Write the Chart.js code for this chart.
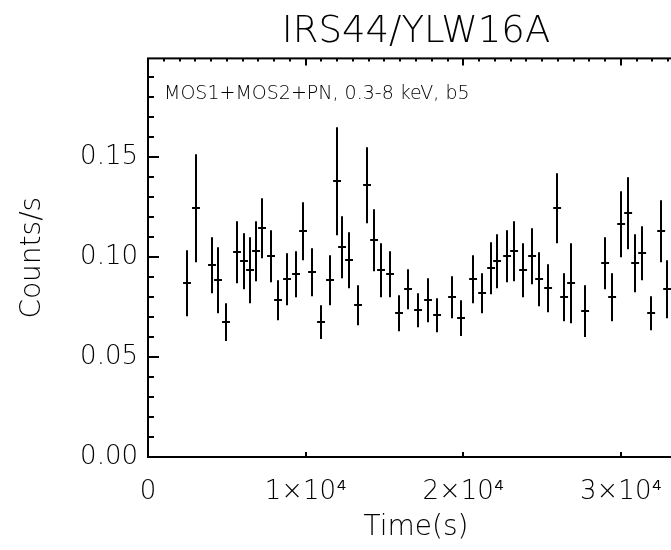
<!DOCTYPE html>
<html>
<head>
<meta charset="utf-8">
<title>IRS44/YLW16A light curve</title>
<script src="https://cdn.jsdelivr.net/npm/chart.js@4.4.1/dist/chart.umd.min.js"></script>
<style>
  html, body { margin: 0; padding: 0; background: #fff; overflow: hidden; }
  #wrap { width: 700px; height: 550px; }
</style>
</head>
<body>
<div id="wrap"><canvas id="myChart" width="700" height="550"></canvas></div>
<script>
// light curve bins (time in s, rate in counts/s, 1 sigma error)
const times = [2475, 3046, 4061, 4442, 4949, 5647, 6091, 6472, 6853, 7234,
  7805, 8249, 8820, 9391, 9835, 10406, 10977, 11548, 11992, 12310,
  12754, 13325, 13896, 14340, 14784, 15355, 15926, 16497, 17132, 17766,
  18338, 19289, 19860, 20622, 21193, 21764, 22145, 22779, 23223, 23794,
  24365, 24810, 25381, 25952, 26396, 26840, 27728, 28997, 29442, 30013,
  30457, 30901, 31345, 31916, 32551, 32931];
const rates = [0.087, 0.1245, 0.096, 0.0885, 0.0675, 0.1025, 0.098, 0.0935, 0.103, 0.1145,
  0.1005, 0.0785, 0.089, 0.0915, 0.113, 0.0925, 0.0675, 0.0885, 0.138, 0.105,
  0.0985, 0.076, 0.136, 0.1085, 0.0935, 0.0915, 0.072, 0.084, 0.0735, 0.0785,
  0.071, 0.080, 0.0695, 0.089, 0.082, 0.0945, 0.098, 0.1005, 0.103, 0.0935,
  0.1005, 0.089, 0.0845, 0.1245, 0.080, 0.087, 0.073, 0.097, 0.080, 0.1165,
  0.122, 0.097, 0.102, 0.072, 0.113, 0.084];
const rateErrs = [0.0165, 0.027, 0.014, 0.0165, 0.0095, 0.0155, 0.014, 0.0165, 0.015, 0.015,
  0.013, 0.010, 0.013, 0.0115, 0.0145, 0.012, 0.0085, 0.0125, 0.027, 0.0155,
  0.014, 0.010, 0.019, 0.0155, 0.0135, 0.0115, 0.009, 0.010, 0.0085, 0.011,
  0.0085, 0.0105, 0.009, 0.012, 0.010, 0.013, 0.0135, 0.013, 0.015, 0.0135,
  0.014, 0.0135, 0.012, 0.0175, 0.012, 0.020, 0.013, 0.013, 0.012, 0.0165,
  0.018, 0.0145, 0.0135, 0.0085, 0.0155, 0.0145];
const binHalf = 250;

const xTicks = [0, 10000, 20000, 30000];
const xTickLabels = ['0', '1×10⁴', '2×10⁴', '3×10⁴'];
const yTicks = [0, 0.05, 0.10, 0.15];
const yTickLabels = ['0.00', '0.05', '0.10', '0.15'];

const titleText = 'IRS44/YLW16A';
const noteText = 'MOS1+MOS2+PN, 0.3-8 keV, b5';

const fontFamily = '"DejaVu Sans", "Liberation Sans", sans-serif';

// error bars drawn through the chart scales
const errorBars = {
  id: 'errorBars',
  afterDatasetsDraw(chart) {
    const {ctx, scales: {x, y}} = chart;
    ctx.save();
    ctx.strokeStyle = '#000';
    ctx.lineWidth = 2;
    ctx.beginPath();
    for (let i = 0; i < times.length; i++) {
      const px = Math.round(x.getPixelForValue(times[i]));
      const py = Math.round(y.getPixelForValue(rates[i]));
      ctx.moveTo(px, y.getPixelForValue(rates[i] + rateErrs[i]));
      ctx.lineTo(px, y.getPixelForValue(rates[i] - rateErrs[i]));
      ctx.moveTo(x.getPixelForValue(times[i] - binHalf), py);
      ctx.lineTo(x.getPixelForValue(times[i] + binHalf), py);
    }
    ctx.stroke();
    ctx.restore();
  }
};

// IDL style box with inward tick marks + the label in the corner
const idlAxes = {
  id: 'idlAxes',
  afterDraw(chart) {
    const {ctx, chartArea: a, scales: {x, y}} = chart;
    ctx.save();
    ctx.strokeStyle = '#000';
    ctx.lineWidth = 2;
    ctx.strokeRect(a.left, a.top, a.right - a.left, a.bottom - a.top);
    ctx.beginPath();
    for (let k = 0; k * 0.01 <= y.max + 1e-9; k++) {
      const py = Math.round(y.getPixelForValue(k * 0.01));
      const len = k % 5 === 0 ? 11 : 6;
      ctx.moveTo(a.left, py); ctx.lineTo(a.left + len, py);
      ctx.moveTo(a.right, py); ctx.lineTo(a.right - len, py);
    }
    for (let k = 0; k * 1000 <= x.max; k++) {
      const px = Math.round(x.getPixelForValue(k * 1000));
      const major = k % 10 === 0;
      ctx.moveTo(px, a.top); ctx.lineTo(px, a.top + (major ? 7 : 3));
      if (major) { ctx.moveTo(px, a.bottom); ctx.lineTo(px, a.bottom - 5); }
    }
    ctx.stroke();

    ctx.fillStyle = '#000';
    ctx.font = '200 19px ' + fontFamily;
    ctx.textAlign = 'left';
    ctx.textBaseline = 'middle';
    ctx.fillText(noteText, a.left + 16, a.top + 36);
    ctx.restore();
  }
};

const myChart = document.getElementById('myChart');

new Chart(myChart, {
  type: 'scatter',
  data: {
    datasets: [{
      label: 'count rate',
      data: times.map((t, i) => ({x: t, y: rates[i]})),
      pointRadius: 0,
      pointHoverRadius: 0,
      showLine: false
    }]
  },
  options: {
    responsive: false,
    animation: false,
    layout: { padding: { top: 0, left: 0, right: 16, bottom: 0 } },
    plugins: {
      legend: { display: false },
      tooltip: { enabled: false },
      title: {
        display: true,
        text: titleText,
        fullSize: false,
        color: '#000',
        font: { family: fontFamily, size: 37, weight: '200' },
        padding: { top: 10, bottom: 4 }
      }
    },
    scales: {
      x: {
        type: 'linear',
        min: 0,
        max: 34000,
        afterBuildTicks: s => { s.ticks = xTicks.map(v => ({value: v})); },
        afterFit: s => { s.height = 93; },
        grid: { display: false, drawTicks: false },
        border: { display: false },
        ticks: {
          color: '#000',
          padding: 20,
          maxRotation: 0,
          font: { family: fontFamily, size: 26, weight: '200' },
          callback: (v) => xTickLabels[xTicks.indexOf(v)]
        },
        title: {
          display: true,
          text: 'Time(s)',
          color: '#000',
          font: { family: fontFamily, size: 28, weight: '200' },
          padding: { top: 0, bottom: 5 }
        }
      },
      y: {
        type: 'linear',
        min: 0,
        max: 0.1995,
        afterBuildTicks: s => { s.ticks = yTicks.map(v => ({value: v})); },
        afterFit: s => { s.width = 148; },
        grid: { display: false, drawTicks: false },
        border: { display: false },
        ticks: {
          color: '#000',
          padding: 10,
          font: { family: fontFamily, size: 26, weight: '200' },
          callback: (v) => yTickLabels[yTicks.indexOf(v)]
        },
        title: {
          display: true,
          text: 'Counts/s',
          color: '#000',
          font: { family: fontFamily, size: 28, weight: '200' },
          padding: { top: 16, bottom: 0 }
        }
      }
    }
  },
  plugins: [errorBars, idlAxes]
});
</script>
</body>
</html>
